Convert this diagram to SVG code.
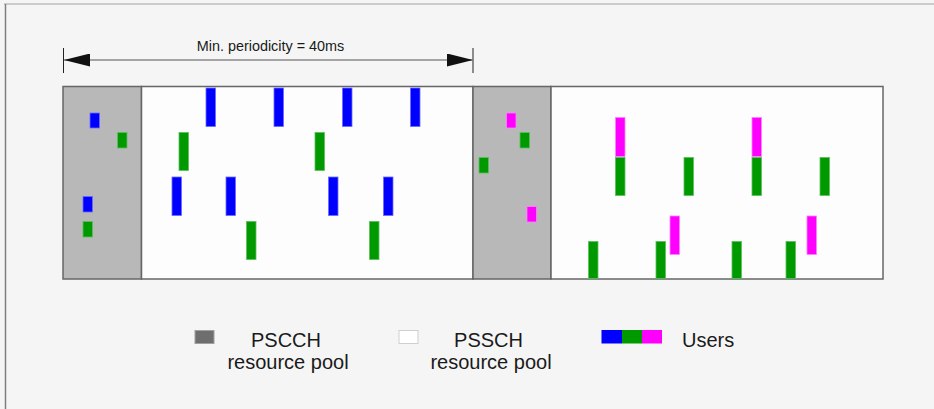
<svg xmlns="http://www.w3.org/2000/svg" width="934" height="409" viewBox="0 0 934 409">
<style>
  text{font-family:"Liberation Sans",Arial,sans-serif;fill:#1a1a1a}
  .pool{stroke:#666;stroke-width:1.5}
  .ctl{fill:#b8b8b8}
  .dat{fill:#fdfdfd}
  .b{fill:#0000ff;stroke:#6b6bff;stroke-width:0.8}
  .g{fill:#009900;stroke:#5cbf5c;stroke-width:0.8}
  .m{fill:#ff00ff;stroke:#ff80ff;stroke-width:0.8}
  .lbl{font-size:20px;text-anchor:middle}
</style>
<defs>
  <marker id="ah" viewBox="0 0 26 13" refX="26" refY="6.5" markerWidth="26" markerHeight="13" markerUnits="userSpaceOnUse" orient="auto-start-reverse">
    <path d="M0,0 L26,6.5 L0,13 Z" fill="#111"/>
  </marker>
</defs>
<rect x="0" y="0" width="934" height="409" fill="#f5f5f5"/>
<line x1="4" y1="4" x2="934" y2="4" stroke="#bdbdbd" stroke-width="1.5"/>
<line x1="5.5" y1="4" x2="5.5" y2="409" stroke="#808080" stroke-width="1.5"/>

<g id="pscch-pool-1"><rect class="pool ctl" x="63" y="86.5" width="78.5" height="192.5"/></g>
<g id="pssch-pool-1"><rect class="pool dat" x="141.5" y="86.5" width="331.5" height="192.5"/></g>
<g id="pscch-pool-2"><rect class="pool ctl" x="473" y="86.5" width="78" height="192.5"/></g>
<g id="pssch-pool-2"><rect class="pool dat" x="551" y="86.5" width="332" height="192.5"/></g>

<g id="blocks-blue">
  <rect class="b" x="90" y="113" width="9.5" height="15"/>
  <rect class="b" x="83" y="196.5" width="9.5" height="15.5"/>
  <rect class="b" x="206" y="88" width="9.5" height="38.5"/>
  <rect class="b" x="274" y="88" width="9.5" height="38.5"/>
  <rect class="b" x="342.5" y="88" width="9.5" height="38.5"/>
  <rect class="b" x="410.5" y="88" width="9.5" height="38.5"/>
  <rect class="b" x="172" y="177" width="9.5" height="38.5"/>
  <rect class="b" x="226" y="177" width="9.5" height="38.5"/>
  <rect class="b" x="328.5" y="177" width="9.5" height="38.5"/>
  <rect class="b" x="383.5" y="177" width="9.5" height="38.5"/>
</g>
<g id="blocks-green">
  <rect class="g" x="117.5" y="132.5" width="9.5" height="15.5"/>
  <rect class="g" x="83" y="221.5" width="9.5" height="15.5"/>
  <rect class="g" x="520" y="132.5" width="9.5" height="15.5"/>
  <rect class="g" x="479" y="157.5" width="9.5" height="15.5"/>
  <rect class="g" x="179" y="132.5" width="9.5" height="38"/>
  <rect class="g" x="315" y="132.5" width="9.5" height="38"/>
  <rect class="g" x="246.5" y="221.5" width="9.5" height="38"/>
  <rect class="g" x="369.5" y="221.5" width="9.5" height="38"/>
  <rect class="g" x="615.5" y="157.5" width="9.5" height="38"/>
  <rect class="g" x="684" y="157.5" width="9.5" height="38"/>
  <rect class="g" x="752" y="157.5" width="9.5" height="38"/>
  <rect class="g" x="820" y="157.5" width="9.5" height="38"/>
  <rect class="g" x="588.5" y="241.5" width="9.5" height="37"/>
  <rect class="g" x="656" y="241.5" width="9.5" height="37"/>
  <rect class="g" x="732" y="241.5" width="9.5" height="37"/>
  <rect class="g" x="786" y="241.5" width="9.5" height="37"/>
</g>
<g id="blocks-magenta">
  <rect class="m" x="506.5" y="113" width="9.5" height="15"/>
  <rect class="m" x="527" y="206.5" width="9.5" height="15.5"/>
  <rect class="m" x="615.5" y="117.5" width="9.5" height="39"/>
  <rect class="m" x="752" y="117.5" width="9.5" height="39"/>
  <rect class="m" x="670" y="216" width="9.5" height="38.5"/>
  <rect class="m" x="807" y="216" width="9.5" height="38.5"/>
</g>

<g id="connectors">
  <line x1="63.5" y1="48" x2="63.5" y2="73" stroke="#222" stroke-width="1"/>
  <line x1="473" y1="48" x2="473" y2="73" stroke="#222" stroke-width="1"/>
  <line x1="64" y1="60" x2="473" y2="60" stroke="#888" stroke-width="1.5" marker-start="url(#ah)" marker-end="url(#ah)"/>
</g>
<g id="label-periodicity">
  <text x="270.5" y="50.5" font-size="14.4" text-anchor="middle">Min. periodicity = 40ms</text>
</g>

<g id="legend-pscch">
  <rect x="195" y="330.5" width="19" height="13" fill="#6e6e6e" stroke="#a0a0a0" stroke-width="1"/>
  <text class="lbl" x="286" y="347">PSCCH</text>
  <text class="lbl" x="288" y="368.5">resource pool</text>
</g>
<g id="legend-pssch">
  <rect x="399" y="330.5" width="19" height="13" fill="#ffffff" stroke="#cfcfcf" stroke-width="1"/>
  <text class="lbl" x="488.5" y="347">PSSCH</text>
  <text class="lbl" x="491" y="368.5">resource pool</text>
</g>
<g id="legend-users">
  <rect x="601.5" y="330" width="20.5" height="13.5" fill="#0000ff"/>
  <rect x="622" y="330" width="20" height="13.5" fill="#009900"/>
  <rect x="642" y="330" width="20" height="13.5" fill="#ff00ff"/>
  <text x="682" y="347" font-size="20">Users</text>
</g>
</svg>
